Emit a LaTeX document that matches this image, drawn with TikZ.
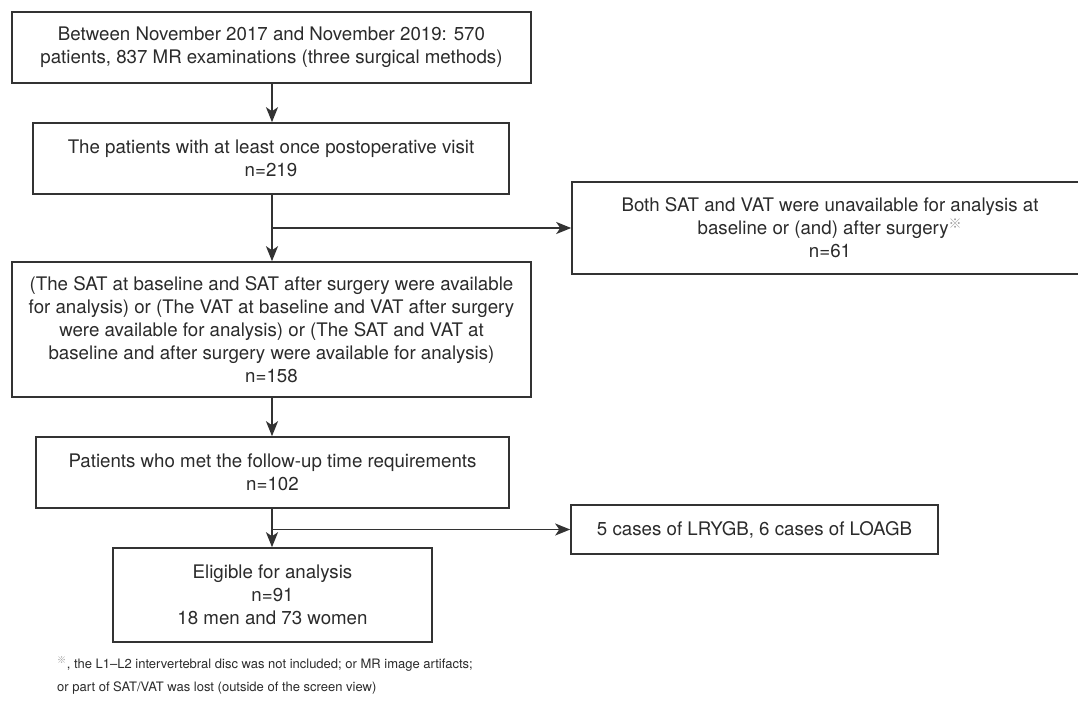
\documentclass[tikz,border=0pt]{standalone}
\usepackage{fontspec}
\setmainfont{TeX Gyre Heros}
\newfontfamily\cjk{Noto Sans CJK SC}
\usetikzlibrary{arrows.meta}
\definecolor{ink}{HTML}{2B2B2B}
\definecolor{lineC}{HTML}{333333}
\definecolor{markC}{HTML}{9A9A9A}
\newcommand{\refmark}{\textsuperscript{\textcolor{markC}{\cjk ※}}}
\tikzset{
  flowbox/.style={draw=lineC, line width=1.6pt, align=center, text=ink,
    font=\fontsize{18.7}{23}\selectfont, inner sep=0pt, anchor=center},
  flowarrow/.style={draw=lineC, line width=1.5pt, -{Stealth[length=15pt,width=12pt,inset=4pt]}},
  fnote/.style={text=ink, font=\fontsize{13}{16}\selectfont, anchor=west, inner sep=0pt}
}
\begin{document}
\begin{tikzpicture}[x=1pt,y=-1pt]
\clip (0,0) rectangle (1078,715);
\path[fill=white] (0,0) rectangle (1078,715);

\node[flowbox, minimum width=519pt, minimum height=71pt] (b1) at (271.5,47.5)
  {Between November 2017 and November 2019: 570\\patients, 837 MR examinations (three surgical methods)};
\node[flowbox, minimum width=476pt, minimum height=71pt] (b2) at (271,158.5)
  {The patients with at least once postoperative visit\\n=219};
\node[flowbox, minimum width=516pt, minimum height=92pt] (r1) at (830,228)
  {Both SAT and VAT were unavailable for analysis at\\baseline or (and) after surgery\refmark\\n=61};
\node[flowbox, minimum width=519pt, minimum height=135pt] (b3) at (271.5,329.5)
  {(The SAT at baseline and SAT after surgery were available\\for analysis) or (The VAT at baseline and VAT after surgery\\were available for analysis) or (The SAT and VAT at\\baseline and after surgery were available for analysis)\\n=158};
\node[flowbox, minimum width=473pt, minimum height=71pt] (b4) at (272.5,472.5)
  {Patients who met the follow-up time requirements\\n=102};
\node[flowbox, minimum width=319pt, minimum height=94pt] (b5) at (272.5,595)
  {Eligible for analysis\\n=91\\18 men and 73 women};
\node[flowbox, minimum width=367pt, minimum height=49pt] (r2) at (754.5,529.5)
  {5 cases of LRYGB, 6 cases of LOAGB};

\coordinate (j1) at (272,228);
\coordinate (j2) at (272,529.5);

\draw[flowarrow] (b1.south -| j1) -- (b2.north -| j1);
\draw[flowarrow] (b2.south -| j1) -- (b3.north -| j1);
\draw[flowarrow] (j1) -- (r1.west |- j1);
\draw[flowarrow] (b3.south -| j1) -- (b4.north -| j1);
\draw[flowarrow] (b4.south -| j2) -- (b5.north -| j2);
\draw[flowarrow] (j2) -- (r2.west |- j2);

\node[fnote] (fn1) at (57,664) {\refmark, the L1--L2 intervertebral disc was not included; or MR image artifacts;};
\node[fnote] (fn2) at (57,688) {or part of SAT/VAT was lost (outside of the screen view)};
\end{tikzpicture}
\end{document}
